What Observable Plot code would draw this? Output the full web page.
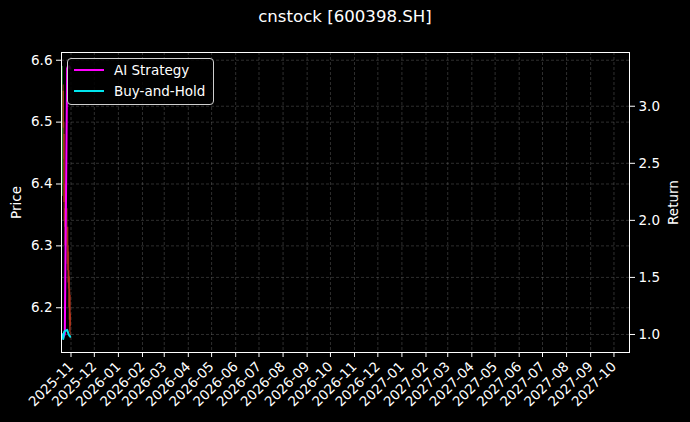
<!DOCTYPE html>
<html>
<head>
<meta charset="utf-8">
<script src="https://cdn.jsdelivr.net/npm/d3@7"></script>
<script src="https://cdn.jsdelivr.net/npm/@observablehq/plot@0.6"></script>
<style>
  html, body { margin: 0; padding: 0; background: #000; }
  #wrap { position: relative; width: 690px; height: 422px; background: #000; font-family: "DejaVu Sans", sans-serif; }
  #title { height: 36px; line-height: 34px; text-align: center; color: #fff; font-size: 16.6px; }
  #legend { position: absolute; left: 67px; top: 58px; width: 145px; height: 45px; border: 1px solid #cfcfcf; border-radius: 4px; background: rgba(0,0,0,0.85); color: #fff; font-size: 13.5px; }
  .item { position: absolute; left: 6px; height: 20px; display: flex; align-items: center; }
  .sw { width: 30px; height: 2.5px; margin-right: 10px; }
</style>
</head>
<body>
<div id="wrap">
  <div id="title">cnstock [600398.SH]</div>
  <div id="chart"></div>
  <div id="legend">
    <div class="item" style="top:1px"><div class="sw" style="background:#ff00ff"></div>AI Strategy</div>
    <div class="item" style="top:22px"><div class="sw" style="background:#00e5ee"></div>Buy-and-Hold</div>
  </div>
</div>
<script>
// ---- data ----
const dates  = ["2025-10-21","2025-10-22","2025-10-23","2025-10-24","2025-10-27","2025-10-28","2025-10-29","2025-10-30","2025-10-31"];
const open   = [6.40, 6.55, 6.48, 6.36, 6.33, 6.30, 6.26, 6.23, 6.19];
const high   = [6.59, 6.56, 6.50, 6.40, 6.36, 6.33, 6.29, 6.25, 6.22];
const low    = [6.38, 6.44, 6.34, 6.30, 6.27, 6.24, 6.20, 6.16, 6.15];
const close  = [6.55, 6.49, 6.37, 6.33, 6.30, 6.26, 6.23, 6.18, 6.17];
const aiReturn = [1.00, 0.97, 0.99, 1.00, 3.33, 3.35, 3.34, 3.35, 3.33];
const bhReturn = [1.00, 0.96, 1.02, 1.03, 1.04, 1.02, 1.00, 0.99, 0.98];
const priceTicks  = [6.2, 6.3, 6.4, 6.5, 6.6];
const returnTicks = [1.0, 1.5, 2.0, 2.5, 3.0];
const monthLabels = ["2025-11","2025-12","2026-01","2026-02","2026-03","2026-04","2026-05","2026-06","2026-07","2026-08","2026-09","2026-10","2026-11","2026-12","2027-01","2027-02","2027-03","2027-04","2027-05","2027-06","2027-07","2027-08","2027-09","2027-10"];

// ---- scales ----
const priceDomain  = [6.1277, 6.6125];
const returnDomain = [0.842, 3.471];
const toPrice = r => priceDomain[0] + (r - returnDomain[0]) / (returnDomain[1] - returnDomain[0]) * (priceDomain[1] - priceDomain[0]);
const toReturn = p => returnDomain[0] + (p - priceDomain[0]) / (priceDomain[1] - priceDomain[0]) * (returnDomain[1] - returnDomain[0]);

const rows = dates.map((d, i) => ({
  date: new Date(d + "T00:00:00Z"),
  open: open[i], high: high[i], low: low[i], close: close[i],
  ai: aiReturn[i], bh: bhReturn[i]
}));
const monthTicks = monthLabels.map(s => new Date(s + "-01T00:00:00Z"));
const returnTickPos = returnTicks.map(toPrice);

const gridStyle = {stroke: "#808080", strokeOpacity: 0.45, strokeWidth: 0.8, strokeDasharray: "3,2"};
const up = "#1f8f1f", down = "#c0391e";

const chart = Plot.plot({
  width: 690,
  height: 386,
  marginLeft: 61,
  marginRight: 61,
  marginTop: 16,
  marginBottom: 70,
  style: {background: "#000", color: "#fff", fontFamily: "DejaVu Sans, sans-serif", fontSize: "13.5px"},
  x: {type: "utc", domain: [new Date("2025-10-19T18:00:00Z"), new Date("2027-10-21T00:00:00Z")]},
  y: {domain: priceDomain},
  marks: [
    Plot.ruleX(monthTicks, {...gridStyle}),
    Plot.ruleY(priceTicks, {...gridStyle}),
    Plot.ruleY(returnTickPos, {...gridStyle}),
    Plot.ruleX(rows, {x: "date", y1: "low", y2: "high", stroke: d => d.close >= d.open ? up : down, strokeWidth: 1, strokeOpacity: 0.7}),
    Plot.ruleX(rows, {x: "date", y1: "open", y2: "close", stroke: d => d.close >= d.open ? up : down, strokeWidth: 1.6, strokeOpacity: 0.7}),
    Plot.line(rows, {x: "date", y: d => toPrice(d.ai), stroke: "#ff00ff", strokeWidth: 2}),
    Plot.line(rows, {x: "date", y: d => toPrice(d.bh), stroke: "#00e5ee", strokeWidth: 2}),
    Plot.frame({stroke: "#fff", strokeWidth: 1}),
    Plot.axisY(priceTicks, {anchor: "left", tickFormat: d => d.toFixed(1), tickSize: 5, label: null}),
    Plot.axisY(returnTickPos, {anchor: "right", tickFormat: p => toReturn(p).toFixed(1), tickSize: 5, label: null}),
    Plot.axisX(monthTicks, {anchor: "bottom", tickFormat: d3.utcFormat("%Y-%m"), tickRotate: -45, tickSize: 5, label: null}),
    Plot.text(["Price"], {frameAnchor: "left", text: d => d, rotate: -90, dx: -45, textAnchor: "middle", fill: "#fff", fontSize: 13.5}),
    Plot.text(["Return"], {frameAnchor: "right", text: d => d, rotate: -90, dx: 44, textAnchor: "middle", fill: "#fff", fontSize: 13.5})
  ]
});
document.getElementById("chart").appendChild(chart);
</script>
</body>
</html>
